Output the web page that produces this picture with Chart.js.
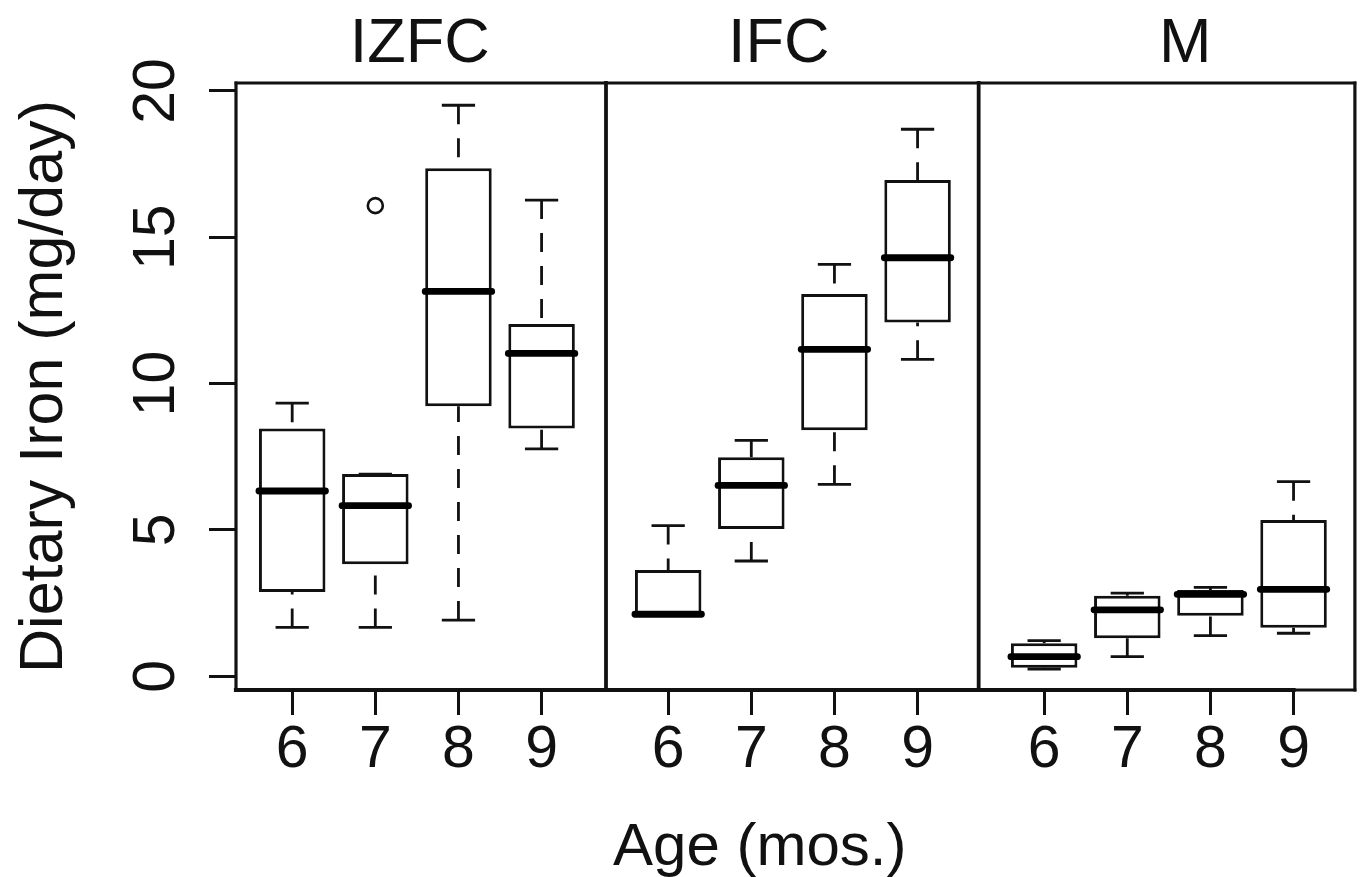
<!DOCTYPE html>
<html><head><meta charset="utf-8">
<script src="https://cdn.jsdelivr.net/npm/chart.js@4.4.1/dist/chart.umd.min.js"></script>
<style>html,body{margin:0;padding:0;background:#fff;}canvas{display:block}</style>
</head><body>
<canvas id="c" width="1365" height="877"></canvas>
<script>
// ---------- data ----------
const panels = ['IZFC', 'IFC', 'M'];
const ageLabels = ['6', '7', '8', '9'];
const yTickValues = [0, 5, 10, 15, 20];
const yTitle = 'Dietary Iron (mg/day)';
const xTitle = 'Age (mos.)';
// order: IZFC 6..9, IFC 6..9, M 6..9
const lowerWhisker = [1.67, 1.67, 1.92, 7.77, 2.12, 3.94, 6.56, 10.83, 0.25, 0.67, 1.39, 1.47];
const q1           = [2.88, 3.83, 9.23, 8.47, 2.12, 5.03, 8.41, 12.09, 0.29, 1.30, 2.07, 1.66];
const median       = [6.33, 5.83, 13.15, 11.03, 2.12, 6.52, 11.17, 14.30, 0.67, 2.27, 2.80, 2.97];
const q3           = [8.47, 6.91, 17.36, 12.04, 3.63, 7.48, 13.06, 16.96, 1.13, 2.75, 2.95, 5.34];
const upperWhisker = [9.33, 6.91, 19.51, 16.27, 5.15, 8.06, 14.07, 18.69, 1.22, 2.84, 3.04, 6.65];
const outlierGroup = [1];
const outlierValue = [16.08];

// ---------- layout ----------
const panelStart = [0.676, 5.199, 9.722];
const separators = [4.451, 8.934];
const titleCenters = [2.21, 6.53, 11.42];
const xTitleCenter = 6.30;
const X_MIN = 0, X_MAX = 13.46, Y_MIN = -0.468, Y_MAX = 20.27;
const BOX_HALF = 0.4, CAP_HALF = 0.2;
const FONT = '"Liberation Sans", Arial, Helvetica, sans-serif';
const INK = '#111';

const xPos = [];
panels.forEach((p, pi) => ageLabels.forEach((a, ai) => xPos.push(panelStart[pi] + ai)));

const whiskerData = [], capData = [], medianData = [], boxData = [];
xPos.forEach((x, i) => {
  whiskerData.push({x, y: upperWhisker[i]}, {x, y: q3[i]}, {x, y: null},
                   {x, y: lowerWhisker[i]}, {x, y: q1[i]}, {x, y: null});
  capData.push({x: x - CAP_HALF, y: upperWhisker[i]}, {x: x + CAP_HALF, y: upperWhisker[i]}, {x: x + CAP_HALF, y: null},
               {x: x - CAP_HALF, y: lowerWhisker[i]}, {x: x + CAP_HALF, y: lowerWhisker[i]}, {x: x + CAP_HALF, y: null});
  medianData.push({x: x - BOX_HALF, y: median[i]}, {x: x + BOX_HALF, y: median[i]}, {x: x + BOX_HALF, y: null});
  boxData.push({x, y: [q1[i], q3[i]]});
});
const outlierData = outlierGroup.map((g, k) => ({x: xPos[g], y: outlierValue[k]}));

const decor = {
  id: 'decor',
  afterDraw(chart) {
    const {ctx, chartArea: ca, scales: {x, y}} = chart;
    const seg = (x1, y1, x2, y2, w) => {
      ctx.beginPath(); ctx.lineWidth = w; ctx.moveTo(x1, y1); ctx.lineTo(x2, y2); ctx.stroke();
    };
    ctx.save();
    ctx.strokeStyle = INK; ctx.lineCap = 'square';
    // frame
    seg(ca.left, ca.top, ca.right, ca.top, 2.8);
    seg(ca.right, ca.top, ca.right, ca.bottom, 3.2);
    seg(ca.left, ca.top, ca.left, ca.bottom, 3.2);
    const lastTick = x.getPixelForValue(xPos[xPos.length - 1]);
    seg(ca.left, ca.bottom, lastTick, ca.bottom, 4.2);
    seg(lastTick, ca.bottom, ca.right, ca.bottom, 2.8);
    separators.forEach(s => { const px = x.getPixelForValue(s); seg(px, ca.top, px, ca.bottom, 3.8); });
    // texts
    ctx.fillStyle = INK;
    ctx.textAlign = 'center'; ctx.textBaseline = 'alphabetic';
    ctx.font = '59px ' + FONT;
    yTickValues.forEach(v => {
      ctx.save();
      ctx.translate(ca.left - 62, y.getPixelForValue(v));
      ctx.rotate(-Math.PI / 2);
      ctx.fillText(String(v), 0, 0);
      ctx.restore();
    });
    ctx.font = '61px ' + FONT;
    ctx.save();
    ctx.translate(62, (ca.top + ca.bottom) / 2);
    ctx.rotate(-Math.PI / 2);
    ctx.fillText(yTitle, 0, 0);
    ctx.restore();
    ctx.font = '60px ' + FONT;
    ctx.fillText(xTitle, x.getPixelForValue(xTitleCenter), 865);
    ctx.font = '63px ' + FONT;
    panels.forEach((p, i) => ctx.fillText(p, x.getPixelForValue(titleCenters[i]), 62));
    ctx.restore();
  }
};

new Chart(document.getElementById('c'), {
  type: 'bar',
  data: {
    datasets: [
      {type: 'scatter', data: outlierData, order: 0, pointRadius: 7.5, pointBorderWidth: 2.6,
       pointBackgroundColor: '#fff', pointBorderColor: INK, showLine: false},
      {type: 'line', data: medianData, order: 1, borderColor: '#000', borderWidth: 6.8,
       borderCapStyle: 'round', pointRadius: 0, spanGaps: false, tension: 0},
      {type: 'bar', data: boxData, order: 2, backgroundColor: '#fff', borderColor: INK,
       borderWidth: 3, borderSkipped: false, barPercentage: 0.8, categoryPercentage: 1.0},
      {type: 'line', data: capData, order: 3, borderColor: INK, borderWidth: 2.8,
       pointRadius: 0, spanGaps: false, tension: 0},
      {type: 'line', data: whiskerData, order: 4, borderColor: INK, borderWidth: 2.8,
       borderDash: [19, 14], pointRadius: 0, spanGaps: false, tension: 0}
    ]
  },
  options: {
    responsive: false, animation: false, devicePixelRatio: 1,
    layout: {padding: {top: 83, right: 8, left: 0, bottom: 0}},
    plugins: {legend: {display: false}, tooltip: {enabled: false}},
    scales: {
      x: {
        type: 'linear', min: X_MIN, max: X_MAX, offset: false,
        afterBuildTicks: s => { s.ticks = xPos.map(v => ({value: v})); },
        afterFit: s => { s.height = 187; },
        ticks: {
          callback: (v, i) => ageLabels[i % ageLabels.length],
          autoSkip: false, maxRotation: 0, minRotation: 0, padding: 0,
          color: INK, font: {family: FONT, size: 59}
        },
        grid: {drawOnChartArea: false, offset: false, drawTicks: true, tickLength: 25,
               tickColor: INK, tickWidth: 3},
        border: {display: false}
      },
      y: {
        type: 'linear', min: Y_MIN, max: Y_MAX,
        afterBuildTicks: s => { s.ticks = yTickValues.map(v => ({value: v})); },
        afterFit: s => { s.width = 236; },
        ticks: {display: false},
        grid: {drawOnChartArea: false, drawTicks: true, tickLength: 27, tickColor: INK, tickWidth: 3},
        border: {display: false}
      }
    }
  },
  plugins: [decor]
});
</script>
</body></html>
